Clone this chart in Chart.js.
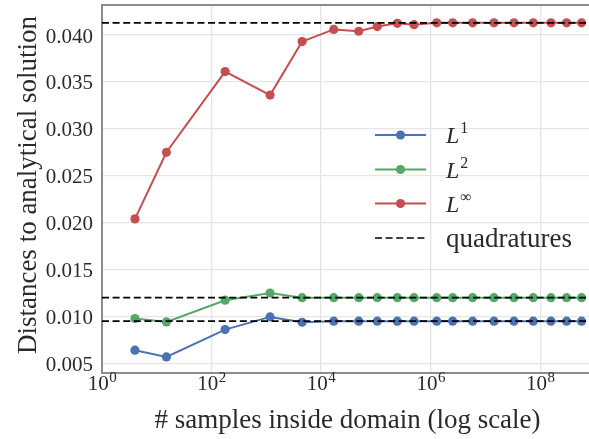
<!DOCTYPE html>
<html>
<head>
<meta charset="utf-8">
<script src="https://cdn.jsdelivr.net/npm/chart.js@4/dist/chart.umd.min.js"></script>
<style>
  html, body { margin: 0; padding: 0; background: #ffffff; overflow: hidden; }
  #wrap { width: 589px; height: 439px; }
</style>
</head>
<body>
<div id="wrap"><canvas id="c" width="589" height="439"></canvas></div>
<script>
// Number of Monte-Carlo samples falling inside the domain
const samples = [4, 15, 177, 1170, 4500, 17000, 48600, 106000, 246000, 497000,
                 1.29e6, 2.52e6, 5.83e6, 1.43e7, 3.31e7, 7.45e7, 1.57e8, 3.03e8, 5.68e8];

// Distances to the analytical solution for each norm
const distL1   = [0.00640, 0.00568, 0.00860, 0.00995, 0.00938, 0.00949, 0.00949, 0.00949, 0.00949, 0.00949,
                  0.00949, 0.00949, 0.00949, 0.00949, 0.00949, 0.00949, 0.00949, 0.00949, 0.00949];
const distL2   = [0.00978, 0.00941, 0.01173, 0.01250, 0.01200, 0.01200, 0.01200, 0.01200, 0.01200, 0.01200,
                  0.01200, 0.01200, 0.01200, 0.01200, 0.01200, 0.01200, 0.01200, 0.01200, 0.01200];
const distLinf = [0.0204, 0.0275, 0.0361, 0.0336, 0.0393, 0.0406, 0.0404, 0.0409, 0.04125, 0.0411,
                  0.0413, 0.0413, 0.0413, 0.0413, 0.0413, 0.0413, 0.0413, 0.0413, 0.0413];

// Reference distances obtained with quadratures (L1, L2, Linf)
const quadratures = [0.00949, 0.01200, 0.0413];

// Axis extents and ticks
const xRange = [1, Math.pow(10, 8.89)];
const yRange = [0.00397, 0.0432];
const xTicks = [1, 1e2, 1e4, 1e6, 1e8];
const yTicks = [0.005, 0.010, 0.015, 0.020, 0.025, 0.030, 0.035, 0.040];

// Legend entries: [base, superscript]
const normLabels = [['L', '1'], ['L', '2'], ['L', '\u221E']];
const quadLabel = 'quadratures';
const xTitle = '# samples inside domain (log scale)';
const yTitle = 'Distances to analytical solution';

const colors = ['#4C72B0', '#55A868', '#C44E52'];
const serif = '"Liberation Serif", "DejaVu Serif", serif';
const textColor = '#2a2a2a';
const spineColor = '#8c8c8c';

const series = [distL1, distL2, distLinf];

const datasets = [];
series.forEach((vals, i) => {
  datasets.push({
    label: normLabels[i].join(''),
    data: samples.map((s, k) => ({ x: s, y: vals[k] })),
    borderColor: colors[i],
    backgroundColor: colors[i],
    pointBackgroundColor: colors[i],
    pointBorderWidth: 0,
    pointRadius: 4.6,
    borderWidth: 2,
    tension: 0,
    order: 2
  });
});
quadratures.forEach((q, i) => {
  datasets.push({
    label: quadLabel,
    data: [{ x: xRange[0], y: q }, { x: xRange[1], y: q }],
    borderColor: '#000000',
    borderWidth: 1.7,
    borderDash: [7, 3.6],
    pointRadius: 0,
    order: 1
  });
});

// Draws the top spine, the superscripted x tick labels, axis titles and legend
const decorations = {
  id: 'decorations',
  afterDraw(chart) {
    const ctx = chart.ctx;
    const area = chart.chartArea;
    const xs = chart.scales.x;
    ctx.save();

    // top spine
    ctx.strokeStyle = spineColor;
    ctx.lineWidth = 2;
    ctx.beginPath();
    ctx.moveTo(area.left - 1, area.top);
    ctx.lineTo(area.right, area.top);
    ctx.stroke();

    ctx.fillStyle = textColor;
    ctx.textBaseline = 'alphabetic';
    ctx.textAlign = 'left';

    // x tick labels 10^n
    xTicks.forEach(v => {
      const px = xs.getPixelForValue(v);
      const exp = String(Math.round(Math.log10(v)));
      ctx.font = '21px ' + serif;
      const wb = ctx.measureText('10').width;
      ctx.font = '15px ' + serif;
      const we = ctx.measureText(exp).width;
      const x0 = px - (wb + we) / 2;
      ctx.font = '21px ' + serif;
      ctx.fillText('10', x0, 390);
      ctx.font = '15px ' + serif;
      ctx.fillText(exp, x0 + wb + 0.5, 381.5);
    });

    // axis titles
    ctx.font = '27px ' + serif;
    ctx.textAlign = 'center';
    ctx.fillText(xTitle, (area.left + area.right) / 2 + 2, 428);
    ctx.save();
    ctx.translate(36, (area.top + area.bottom) / 2 - 4);
    ctx.rotate(-Math.PI / 2);
    ctx.fillText(yTitle, 0, 0);
    ctx.restore();

    // legend
    const lx0 = 375, lx1 = 426, tx = 446;
    const rows = [135, 169.5, 203.5, 238];
    ctx.textAlign = 'left';
    normLabels.forEach((lab, i) => {
      const y = rows[i];
      ctx.strokeStyle = colors[i];
      ctx.lineWidth = 2;
      ctx.setLineDash([]);
      ctx.beginPath();
      ctx.moveTo(lx0, y);
      ctx.lineTo(lx1, y);
      ctx.stroke();
      ctx.fillStyle = colors[i];
      ctx.beginPath();
      ctx.arc((lx0 + lx1) / 2, y, 4.6, 0, Math.PI * 2);
      ctx.fill();
      ctx.fillStyle = textColor;
      ctx.font = 'italic 24px ' + serif;
      ctx.fillText(lab[0], tx, y + 8);
      const wl = ctx.measureText(lab[0]).width;
      ctx.font = '16px ' + serif;
      ctx.fillText(lab[1], tx + wl + 1, y - 2);
    });
    const yq = rows[3];
    ctx.strokeStyle = '#000000';
    ctx.lineWidth = 1.7;
    ctx.setLineDash([7, 3.6]);
    ctx.beginPath();
    ctx.moveTo(lx0, yq);
    ctx.lineTo(lx1, yq);
    ctx.stroke();
    ctx.setLineDash([]);
    ctx.font = '27px ' + serif;
    ctx.fillText(quadLabel, tx, yq + 9);

    ctx.restore();
  }
};

new Chart(document.getElementById('c'), {
  type: 'line',
  data: { datasets },
  options: {
    responsive: false,
    animation: false,
    layout: { autoPadding: false, padding: { top: 5, right: 0, bottom: 0, left: 0 } },
    plugins: { legend: { display: false }, tooltip: { enabled: false } },
    scales: {
      x: {
        type: 'logarithmic',
        min: xRange[0],
        max: xRange[1],
        afterBuildTicks: s => { s.ticks = xTicks.map(v => ({ value: v })); },
        afterFit: s => { s.height = 66; s.paddingLeft = 0; s.paddingRight = 0; },
        ticks: { display: false },
        grid: { color: '#e5e5e5', lineWidth: 1.3, drawTicks: false },
        border: { color: spineColor, width: 2 }
      },
      y: {
        type: 'linear',
        min: yRange[0],
        max: yRange[1],
        afterBuildTicks: s => { s.ticks = yTicks.map(v => ({ value: v })); },
        afterFit: s => { s.width = 102; s.paddingTop = 0; s.paddingBottom = 0; },
        ticks: {
          callback: v => v.toFixed(3),
          font: { family: serif, size: 21 },
          color: textColor,
          padding: 9,
          labelOffset: 2
        },
        grid: { color: '#e5e5e5', lineWidth: 1.3, drawTicks: false },
        border: { color: spineColor, width: 2 }
      }
    }
  },
  plugins: [decorations]
});
</script>
</body>
</html>
